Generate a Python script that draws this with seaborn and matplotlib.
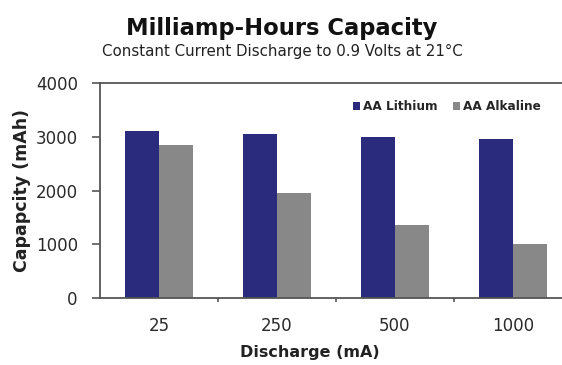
import matplotlib
matplotlib.use("Agg")
import matplotlib.pyplot as plt
import seaborn as sns
import pandas as pd
from matplotlib.ticker import FixedLocator

discharge = ["25", "250", "500", "1000"]
lithium = [3100, 3050, 3000, 2950]
alkaline = [2850, 1950, 1350, 1000]
series_names = ["AA Lithium", "AA Alkaline"]
yticks = [0, 1000, 2000, 3000, 4000]

df = pd.DataFrame({
    "Discharge": discharge * 2,
    "Capacity": lithium + alkaline,
    "Battery": [series_names[0]] * 4 + [series_names[1]] * 4,
})

sns.set_theme(style="white")
plt.rcParams["font.family"] = ["DejaVu Sans"]

W, H = 562, 365
fig = plt.figure(figsize=(W / 100, H / 100), dpi=100)
ax = fig.add_axes([100 / W, 1 - 298 / H, 472 / W, 215 / H])

palette = {series_names[0]: "#2b2b7d", series_names[1]: "#888888"}
sns.barplot(data=df, x="Discharge", y="Capacity", hue="Battery", order=discharge,
            hue_order=series_names, palette=palette, width=0.58, gap=0,
            saturation=1, linewidth=0, ax=ax, legend=True)

ax.set_ylim(0, 4000)
ax.set_xlim(-0.5, 3.5)
ax.set_yticks(yticks)
ax.set_yticklabels([str(t) for t in yticks], fontsize=12, color="#2a2a2a")
ax.set_xticks(range(len(discharge)))
ax.set_xticklabels(discharge, fontsize=12, color="#2a2a2a")
ax.xaxis.set_minor_locator(FixedLocator([0.5, 1.5, 2.5]))
ax.tick_params(axis="y", which="major", direction="out", length=6, width=1.2,
               color="#555555", left=True, pad=10)
ax.tick_params(axis="x", which="major", length=0, pad=14)
ax.tick_params(axis="x", which="minor", direction="out", length=3, width=1.2,
               color="#555555", bottom=True)

for side in ["left", "bottom", "top"]:
    ax.spines[side].set_visible(True)
    ax.spines[side].set_color("#555555")
    ax.spines[side].set_linewidth(1.3)
ax.spines["right"].set_visible(False)

ax.set_ylabel("")
ax.set_xlabel("")
fig.text(22 / W, 1 - 191 / H, "Capapcity (mAh)", rotation=90, fontsize=12.5,
         fontweight="bold", color="#222222", ha="center", va="center")
fig.text(310 / W, 1 - 353 / H, "Discharge (mA)", fontsize=11.5, fontweight="bold",
         color="#222222", ha="center", va="center")

fig.text(282 / W, 1 - 28 / H, "Milliamp-Hours Capacity", fontsize=16.3,
         fontweight="bold", color="#111111", ha="center", va="center")
fig.text(282 / W, 1 - 51 / H, "Constant Current Discharge to 0.9 Volts at 21°C",
         fontsize=10.8, color="#222222", ha="center", va="center")

handles, labels = ax.get_legend_handles_labels()
ax.legend(handles, labels, loc="center left", bbox_to_anchor=(342 / W, 1 - 107 / H),
          bbox_transform=fig.transFigure, ncol=2, frameon=False,
          handlelength=0.6, handleheight=0.6, handletextpad=0.2,
          columnspacing=1.3, prop={"size": 8.7, "weight": "bold"})

fig.savefig("out.png", dpi=100)
